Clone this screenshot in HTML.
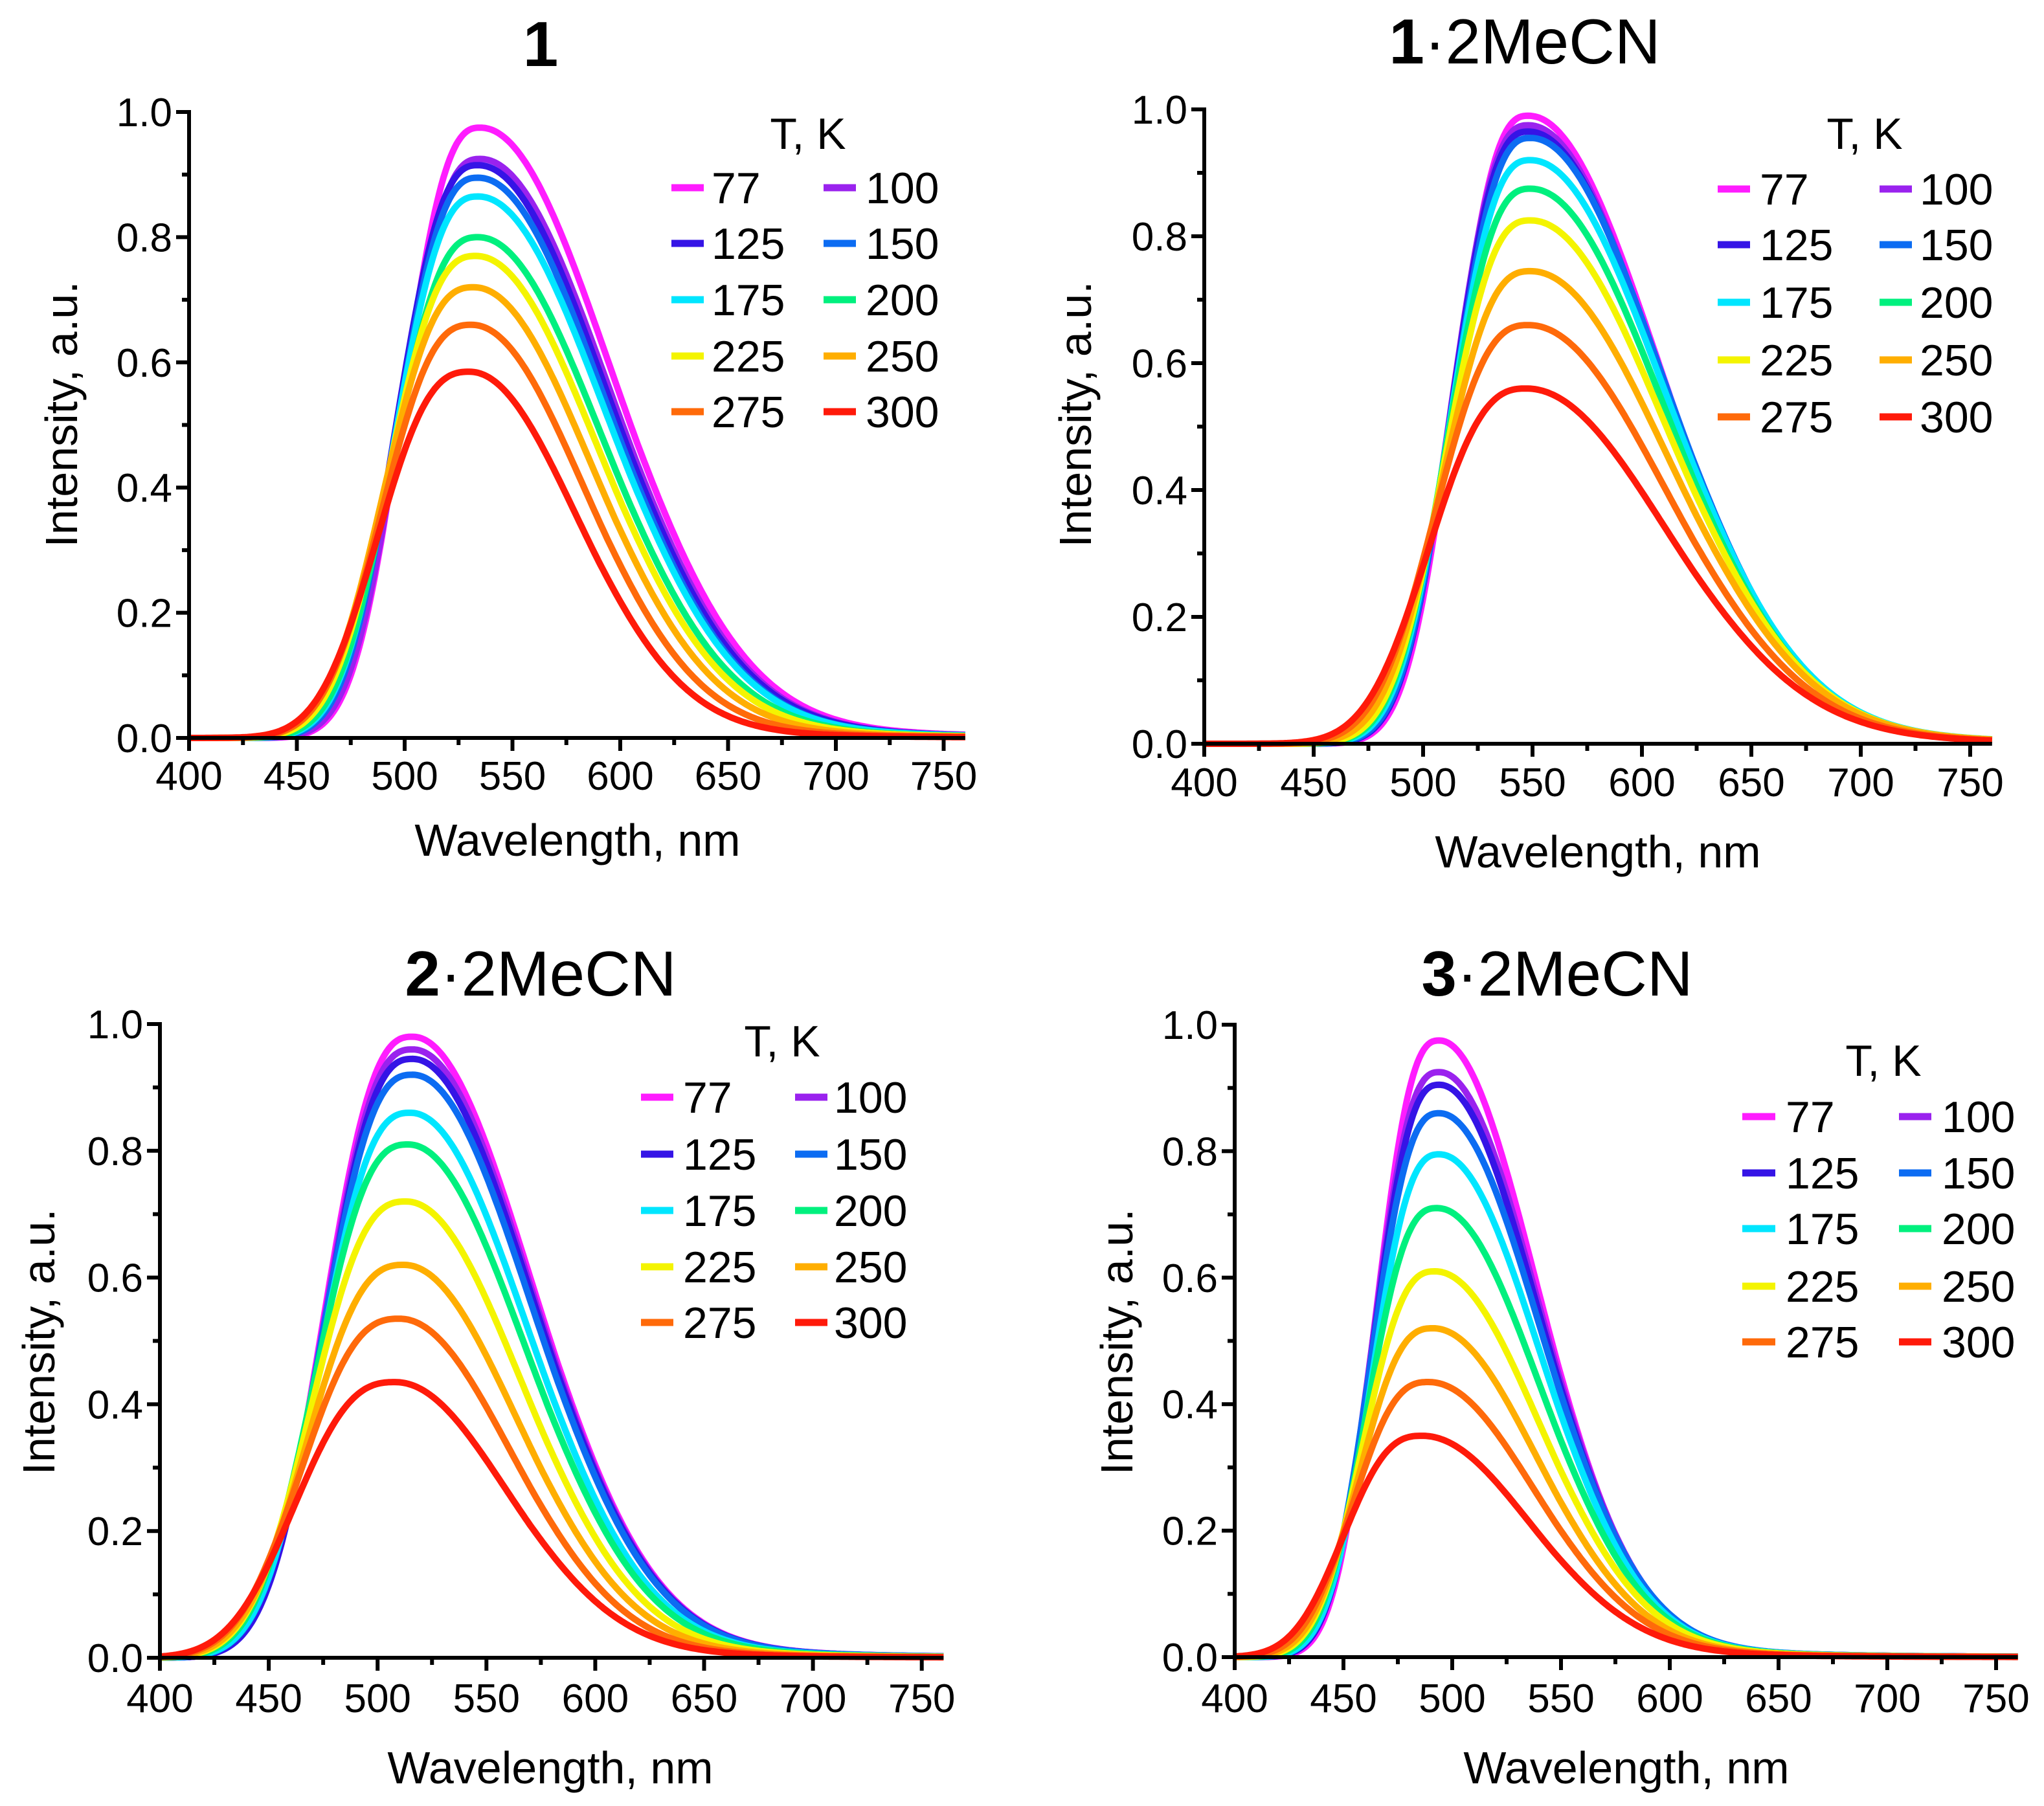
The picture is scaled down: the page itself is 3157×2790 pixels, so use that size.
<!DOCTYPE html>
<html><head><meta charset="utf-8"><style>
html,body{margin:0;padding:0;background:#fff;}
svg{display:block;font-family:"Liberation Sans",Arial,sans-serif;}
</style></head><body>
<svg id="fig" width="3157" height="2790" viewBox="0 0 3157 2790" xmlns="http://www.w3.org/2000/svg"></svg>
<script>
const temps = ["77","100","125","150","175","200","225","250","275","300"];
const colors = ["#ff1cff","#9a22ee","#3514e6","#0c6cf2","#00e6ff","#00f07e","#f4f400","#ffae00","#ff6a0a","#ff1a0a"];
const xTicks = [400,450,500,550,600,650,700,750];
const yTicks = [0.0,0.2,0.4,0.6,0.8,1.0];
// panel 1
const p1Peak = [0.975,0.925,0.915,0.895,0.865,0.80,0.77,0.72,0.66,0.585];
const p1Center = [535,535,534,534,534,534,533,532,531,530];
const p1LeftHW = [38,39,40,40,41,42,43,44,44,45];
const p1RightHW = [73,72,72,71,71,69,68,66,63,60];
// panel 2
const p2Peak = [0.99,0.975,0.965,0.955,0.92,0.875,0.825,0.745,0.66,0.56];
const p2Center = [548,548,548,549,549,549,549,549,548,547];
const p2LeftHW = [36,37,37,38,39,40,41,43,45,47];
const p2RightHW = [72,72,73,73,74,74,75,76,76,77];
// panel 3
const p3Peak = [0.98,0.96,0.945,0.92,0.86,0.81,0.72,0.62,0.535,0.435];
const p3Center = [516,516,516,516,515,514,513,512,510,508];
const p3LeftHW = [43,43,43,44,44,45,46,47,48,49];
const p3RightHW = [66,66,66,66,65,65,64,63,62,62];
// panel 4
const p4Peak = [0.975,0.925,0.905,0.86,0.795,0.71,0.61,0.52,0.435,0.35];
const p4Center = [494,494,494,494,494,493,492,491,489,486];
const p4LeftHW = [31,32,32,33,33,34,35,36,37,38];
const p4RightHW = [54,55,55,56,56,57,58,58,59,60];

const NS="http://www.w3.org/2000/svg";
const svg=document.getElementById('fig');
function mk(tag,attrs,parent){const e=document.createElementNS(NS,tag);for(const k in attrs)e.setAttribute(k,attrs[k]);(parent||svg).appendChild(e);return e;}

function shape(x,A,x0,hl,hr){
  const d=x-x0;
  if(d<=0){const s=hl/Math.pow(Math.LN2,1/2.6);return A*Math.exp(-Math.pow(-d/s,2.6));}
  const s=hr/Math.pow(Math.LN2,1/2.1);
  const core=Math.exp(-Math.pow(d/s,2.1));
  const tail=Math.exp(-d/(hr*0.95));
  const w=Math.min(1,d/hr);
  return A*(core*(1-0.12*w)+0.12*w*tail);
}

const panels=[
 {key:'p1',x0:292,per50:166.5,y0:1140,y1:173,peak:p1Peak,center:p1Center,lhw:p1LeftHW,rhw:p1RightHW,
  title:['1',''],tx:835,ty:102,ytx:95,yty:640,xtx:892,xty:1322,tickY:1220,
  tk:[1248,230],leg:{rows:[290,376,463,550,636],c1:[1037,1087,1099],c2:[1272,1322,1337]}},
 {key:'p2',x0:1860,per50:169,y0:1149,y1:169,peak:p2Peak,center:p2Center,lhw:p2LeftHW,rhw:p2RightHW,
  title:['1','·2MeCN'],tx:2355,ty:98,ytx:1661,yty:640,xtx:2468,xty:1340,tickY:1230,
  tk:[2880,230],leg:{rows:[292,378,467,556,644],c1:[2653,2703,2718],c2:[2903,2953,2965]}},
 {key:'p3',x0:247,per50:168.1,y0:2561,y1:1582,peak:p3Peak,center:p3Center,lhw:p3LeftHW,rhw:p3RightHW,
  title:['2','·2MeCN'],tx:835,ty:1538,ytx:60,yty:2073,xtx:850,xty:2755,tickY:2645,
  tk:[1208,1632],leg:{rows:[1695,1783,1870,1957,2043],c1:[990,1040,1055],c2:[1228,1278,1288]}},
 {key:'p4',x0:1907,per50:168,y0:2560,y1:1583,peak:p4Peak,center:p4Center,lhw:p4LeftHW,rhw:p4RightHW,
  title:['3','·2MeCN'],tx:2405,ty:1538,ytx:1725,yty:2073,xtx:2512,xty:2755,tickY:2645,
  tk:[2909,1662],leg:{rows:[1725,1812,1898,1987,2073],c1:[2691,2742,2758],c2:[2933,2983,2999]}}
];

panels.forEach(P=>{
  const g=mk('g',{});
  
  
  const X=v=>P.x0+(v-400)/50*P.per50;
  const Y=v=>P.y0-v*(P.y0-P.y1);
  for(let i=0;i<temps.length;i++){
    let d='';
    for(let w=400;w<=760;w+=1){
      const y=shape(w,P.peak[i],P.center[i],P.lhw[i],P.rhw[i]);
      d+=(w===400?'M':'L')+X(w).toFixed(1)+' '+Y(y).toFixed(1);
    }
    const path=mk('path',{d:d,fill:'none',stroke:colors[i],'stroke-width':10,'stroke-linejoin':'round'},g);
    
    
  }
  const ax=mk('path',{d:`M${X(400)} ${P.y1-3}L${X(400)} ${P.y0}L${X(760)} ${P.y0}`,fill:'none',stroke:'#000','stroke-width':6},g);
  
  
  for(let v=400;v<=750;v+=25){
    const major=v%50===0;
    mk('line',{x1:X(v),x2:X(v),y1:P.y0,y2:P.y0+(major?20:11),stroke:'#000','stroke-width':6},g);
  }
  xTicks.forEach(v=>{
    const t=mk('text',{x:X(v),y:P.tickY,'text-anchor':'middle','font-size':62,fill:'#000'},g);
    t.textContent=v;
    
    
  });
  for(let k=0;k<=10;k++){
    const v=k/10, major=k%2===0;
    mk('line',{x1:X(400),x2:X(400)-(major?20:11),y1:Y(v),y2:Y(v),stroke:'#000','stroke-width':6},g);
  }
  yTicks.forEach(v=>{
    const t=mk('text',{x:X(400)-26,y:Y(v)+22,'text-anchor':'end','font-size':62,fill:'#000'},g);
    t.textContent=v.toFixed(1);
    
    
  });
  const xt=mk('text',{x:P.xtx,y:P.xty,'text-anchor':'middle','font-size':70,fill:'#000'},g);
  xt.textContent='Wavelength, nm';
  
  
  const yt=mk('text',{x:0,y:0,'text-anchor':'middle','font-size':70,fill:'#000',transform:`translate(${P.ytx+24},${P.yty}) rotate(-90)`},g);
  yt.textContent='Intensity, a.u.';
  
  
  const tt=mk('text',{x:P.tx,y:P.ty,'text-anchor':'middle','font-size':98,fill:'#000'},g);
  
  
  const b=mk('tspan',{'font-weight':'bold'},tt); b.textContent=P.title[0];
  if(P.title[1]){const r=mk('tspan',{},tt); r.textContent=P.title[1];}
  const lg=mk('g',{},g);
  
  
  const tk=mk('text',{x:P.tk[0],y:P.tk[1],'text-anchor':'middle','font-size':68,fill:'#000'},lg);
  tk.textContent='T, K';
  
  
  for(let i=0;i<temps.length;i++){
    const row=Math.floor(i/2), col=i%2===0?P.leg.c1:P.leg.c2, yy=P.leg.rows[row];
    const e=mk('g',{},lg);
    
    
    mk('line',{x1:col[0],x2:col[1],y1:yy,y2:yy,stroke:colors[i],'stroke-width':11},e);
    const t=mk('text',{x:col[2],y:yy+24,'font-size':68,fill:'#000'},e);
    t.textContent=temps[i];
  }
});
</script>
</body></html>
